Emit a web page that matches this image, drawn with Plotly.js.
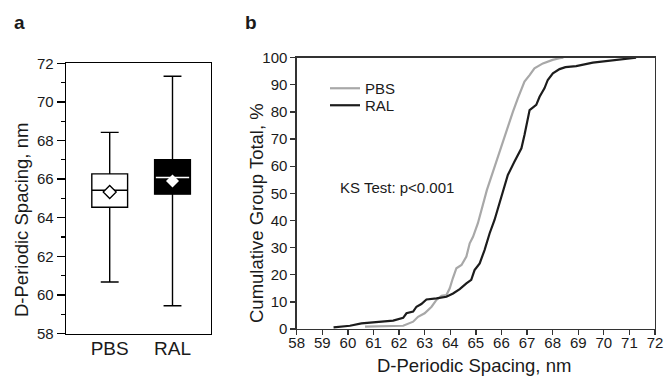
<!DOCTYPE html>
<html>
<head>
<meta charset="utf-8">
<script src="https://cdn.plot.ly/plotly-3.0.1.min.js"></script>
<style>html,body{margin:0;padding:0;background:#fff}#chart{width:666px;height:381px}</style>
</head>
<body>
<div id="chart"></div>
<script>
// ---- Panel a: box plot summary statistics ----
const groups = ['PBS', 'RAL'];
const groupPos = [0, 1];
const boxMin = [60.67, 59.44];
const boxQ1 = [64.54, 65.22];
const boxMedian = [65.42, 66.08];
const boxQ3 = [66.27, 67.0];
const boxMax = [68.42, 71.33];
const boxMean = [65.33, 65.9];

// ---- Panel b: cumulative distributions ----
const pbsX = [60.67, 61.5, 62.16, 62.55, 62.74, 63.0, 63.27, 63.46, 63.66, 63.85, 63.98, 64.1, 64.24, 64.44, 64.63, 64.76, 64.89, 65.08, 65.21, 65.34, 65.43, 65.67, 65.93, 66.12, 66.25, 66.45, 66.64, 66.78, 66.9, 67.1, 67.29, 67.62, 68.0, 68.27, 68.42];
const pbsY = [0.9, 1.0, 1.2, 2.7, 4.5, 5.8, 8.2, 10.7, 12.2, 12.5, 15, 18.7, 22.4, 23.6, 26.7, 31.6, 34, 39, 43.9, 48.8, 51.2, 58, 65.4, 71.5, 75.2, 80.1, 85, 88.7, 91.2, 93.6, 96.1, 97.9, 99.2, 99.8, 100];
const ralX = [59.44, 60.08, 60.53, 60.99, 61.77, 62.16, 62.29, 62.55, 62.68, 62.87, 63.07, 63.46, 63.85, 64.11, 64.37, 64.63, 64.82, 64.95, 65.15, 65.34, 65.54, 65.73, 65.93, 66.07, 66.25, 66.51, 66.78, 66.9, 67.0, 67.1, 67.36, 67.49, 67.68, 67.81, 68.01, 68.27, 68.5, 68.92, 69.57, 70.09, 70.61, 71.26];
const ralY = [0.6, 1.2, 2.1, 2.5, 3.1, 4.1, 5.8, 6.4, 8.2, 9.2, 10.9, 11.3, 11.9, 13.1, 14.7, 16.8, 18.1, 21.7, 24.2, 29.1, 35.3, 40.2, 46.3, 51, 56.8, 61.7, 66.6, 71.5, 76.4, 80.7, 82.6, 85.6, 88.7, 91.8, 94.2, 95.8, 96.5, 96.9, 98.2, 98.8, 99.2, 100];

const FONT = 'Liberation Sans, Arial, Helvetica, sans-serif';
const TXT = '#1a1a1a';
const boxWidth = 0.57;
const boxFill = ['#ffffff', '#000000'];

const traces = [];
groups.forEach((g, i) => {
  traces.push({
    type: 'box', xaxis: 'x', yaxis: 'y',
    x: [groupPos[i]], q1: [boxQ1[i]], median: [boxMedian[i]], q3: [boxQ3[i]],
    lowerfence: [boxMin[i]], upperfence: [boxMax[i]],
    width: boxWidth, whiskerwidth: 0.5, boxpoints: false,
    fillcolor: boxFill[i], line: {color: '#000000', width: 1.4},
    showlegend: false, hoverinfo: 'skip'
  });
});
// white median line on the dark RAL box
traces.push({
  type: 'scatter', mode: 'lines', xaxis: 'x', yaxis: 'y',
  x: [groupPos[1] - boxWidth / 2 + 0.02, groupPos[1] + boxWidth / 2 - 0.02],
  y: [boxMedian[1], boxMedian[1]],
  line: {color: '#ffffff', width: 1.4}, showlegend: false, hoverinfo: 'skip'
});
// mean diamonds
traces.push({
  type: 'scatter', mode: 'markers', xaxis: 'x', yaxis: 'y',
  x: groupPos, y: boxMean,
  marker: {symbol: 'diamond', size: 10, color: ['#ffffff', '#ffffff'],
           line: {color: ['#000000', '#ffffff'], width: [1.3, 0]}},
  showlegend: false, hoverinfo: 'skip'
});
traces.push({
  type: 'scatter', mode: 'lines', xaxis: 'x2', yaxis: 'y2', name: 'PBS', legend: 'legend',
  x: pbsX, y: pbsY, line: {color: '#a8a8a8', width: 2.2}, hoverinfo: 'skip'
});
traces.push({
  type: 'scatter', mode: 'lines', xaxis: 'x2', yaxis: 'y2', name: 'RAL', legend: 'legend2',
  x: ralX, y: ralY, line: {color: '#1c1c1c', width: 2.2}, hoverinfo: 'skip'
});

const W = 666, H = 381;
const legendBase = {
  xanchor: 'left', yanchor: 'top', bgcolor: 'rgba(0,0,0,0)', borderwidth: 0,
  font: {size: 15, family: FONT, color: TXT}, itemwidth: 30
};
const layout = {
  width: W, height: H,
  margin: {l: 0, r: 0, t: 0, b: 0},
  paper_bgcolor: '#ffffff', plot_bgcolor: '#ffffff',
  font: {family: FONT, size: 15, color: TXT},
  hovermode: false,
  xaxis: {
    domain: [66 / W, 211 / W], anchor: 'y',
    range: [-0.696, 1.613], tickvals: groupPos, ticktext: groups,
    ticks: '', showgrid: false, zeroline: false, ticklabelstandoff: -3,
    showline: true, linecolor: '#000000', linewidth: 1.3, mirror: true,
    tickfont: {size: 19, family: FONT, color: TXT}
  },
  yaxis: {
    domain: [1 - 333.5 / H, 1 - 63.3 / H], anchor: 'x',
    range: [58, 72], dtick: 2, tick0: 58,
    ticks: 'outside', ticklen: 8, tickwidth: 1.3, tickcolor: '#000000',
    minor: {dtick: 1, ticks: 'outside', ticklen: 4, tickwidth: 1.3, tickcolor: '#000000', showgrid: false},
    showgrid: false, zeroline: false,
    showline: true, linecolor: '#000000', linewidth: 1.3, mirror: true,
    tickfont: {size: 15, family: FONT, color: TXT}
  },
  xaxis2: {
    domain: [296.7 / W, 655 / W], anchor: 'y2',
    range: [58, 72], dtick: 1, tick0: 58,
    ticks: 'outside', ticklen: 5, tickwidth: 1.3, tickcolor: '#333333',
    showgrid: false, zeroline: false, ticklabelstandoff: -5,
    showline: true, linecolor: '#333333', linewidth: 1.3, mirror: true,
    tickfont: {size: 15, family: FONT, color: TXT}
  },
  yaxis2: {
    domain: [1 - 329 / H, 1 - 57.7 / H], anchor: 'x2',
    range: [0, 100], dtick: 10, tick0: 0,
    ticks: 'outside', ticklen: 5, tickwidth: 1.3, tickcolor: '#333333',
    showgrid: false, zeroline: false,
    showline: true, linecolor: '#333333', linewidth: 1.3, mirror: true,
    tickfont: {size: 15, family: FONT, color: TXT}
  },
  showlegend: true,
  legend: Object.assign({x: 325 / W, y: 1 - 72 / H}, legendBase),
  legend2: Object.assign({x: 325 / W, y: 1 - 89 / H}, legendBase),
  annotations: [
    {text: '<b>a</b>', x: 12 / W, y: 1 - 10 / H, xref: 'paper', yref: 'paper', xanchor: 'left', yanchor: 'top', showarrow: false, font: {size: 19, family: FONT, color: TXT}},
    {text: '<b>b</b>', x: 243 / W, y: 1 - 10 / H, xref: 'paper', yref: 'paper', xanchor: 'left', yanchor: 'top', showarrow: false, font: {size: 19, family: FONT, color: TXT}},
    {text: 'KS Test: p&lt;0.001', x: 338 / W, y: 1 - 187 / H, xref: 'paper', yref: 'paper', xanchor: 'left', yanchor: 'middle', showarrow: false, font: {size: 15, family: FONT, color: TXT}},
    {text: 'D-Periodic Spacing, nm', textangle: -90, x: 21 / W, y: 1 - 220 / H, xref: 'paper', yref: 'paper', xanchor: 'center', yanchor: 'middle', showarrow: false, font: {size: 18.5, family: FONT, color: TXT}},
    {text: 'Cumulative Group Total, %', textangle: -90, x: 256 / W, y: 1 - 213 / H, xref: 'paper', yref: 'paper', xanchor: 'center', yanchor: 'middle', showarrow: false, font: {size: 18.5, family: FONT, color: TXT}},
    {text: 'D-Periodic Spacing, nm', x: 474 / W, y: 1 - 365 / H, xref: 'paper', yref: 'paper', xanchor: 'center', yanchor: 'middle', showarrow: false, font: {size: 18.5, family: FONT, color: TXT}}
  ]
};

Plotly.newPlot('chart', traces, layout, {staticPlot: true, displayModeBar: false});
</script>
</body>
</html>
